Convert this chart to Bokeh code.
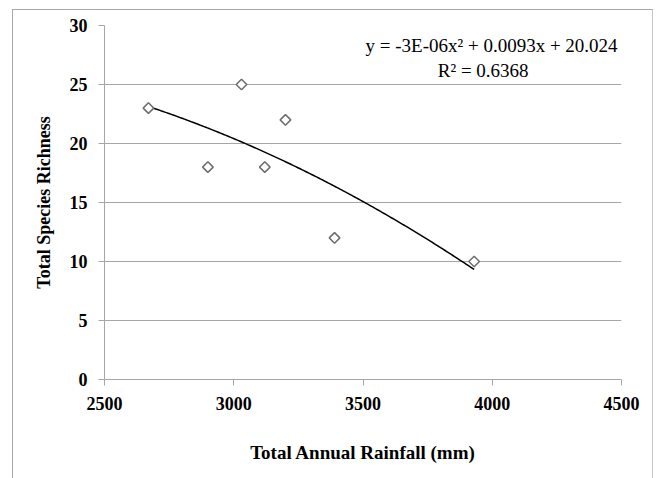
import numpy as np
from bokeh.plotting import figure
from bokeh.models import Label, FixedTicker
from bokeh.embed import file_html
from bokeh.resources import INLINE

# Data
rainfall = [2670, 2900, 3030, 3120, 3200, 3390, 3930]
richness = [23, 18, 25, 18, 22, 12, 10]
x_ticks = [2500, 3000, 3500, 4000, 4500]
y_ticks = [0, 5, 10, 15, 20, 25, 30]
equation_text = "y = -3E-06x\u00b2 + 0.0093x + 20.024"
r2_text = "R\u00b2 = 0.6368"
x_title = "Total Annual Rainfall (mm)"
y_title = "Total Species Richness"

FONT = "Liberation Serif"
GRID = "#a6a6a6"

p = figure(frame_width=517, frame_height=354,
           min_border_left=91, min_border_right=31,
           min_border_top=15, min_border_bottom=99,
           x_range=(2500, 4500), y_range=(0, 30),
           output_backend="svg", toolbar_location=None,
           background_fill_color="white", border_fill_color="white")
p.outline_line_color = None
p.styles = {"border-left": "1px solid #a8a8a8", "border-top": "1px solid #a8a8a8",
            "border-right": "1px solid #c8c8c8",
            "margin-left": "12px", "margin-top": "9px"}

# grid
p.xgrid.grid_line_color = None
p.ygrid.grid_line_color = GRID
p.ygrid.ticker = FixedTicker(ticks=y_ticks)

for ax in (p.xaxis[0], p.yaxis[0]):
    ax.axis_line_color = GRID
    ax.major_tick_line_color = GRID
    ax.major_tick_out = 6
    ax.major_tick_in = 0
    ax.minor_tick_line_color = None
    ax.major_label_text_font = FONT
    ax.major_label_text_font_style = "bold"
    ax.major_label_text_font_size = "18px"
    ax.major_label_text_color = "black"
    ax.axis_label_text_font = FONT
    ax.axis_label_text_font_style = "bold"
    ax.axis_label_text_color = "black"

p.xaxis[0].ticker = FixedTicker(ticks=x_ticks)
p.yaxis[0].ticker = FixedTicker(ticks=y_ticks)
p.xaxis[0].axis_label = x_title
p.yaxis[0].axis_label = y_title
p.xaxis[0].axis_label_text_font_size = "19px"
p.yaxis[0].axis_label_text_font_size = "18px"
p.xaxis[0].major_label_standoff = 11
p.yaxis[0].major_label_standoff = 11
p.xaxis[0].axis_label_standoff = 29
p.yaxis[0].axis_label_standoff = 13

# trendline: 2nd order polynomial fit of the data
coef = np.polyfit(rainfall, richness, 2)
xs = np.linspace(min(rainfall), max(rainfall), 200)
ys = np.polyval(coef, xs)
p.line(xs, ys, line_color="black", line_width=1.5)

# points
p.scatter(rainfall, richness, marker="square", angle=np.pi / 4, size=7.5,
          fill_color="white", line_color="#6e6e6e", line_width=1.5)

p.add_layout(Label(x=4485, y=28.3, text=equation_text, text_align="right",
                   text_baseline="middle", text_font=FONT,
                   text_font_size="19px", text_color="black"))
p.add_layout(Label(x=3965, y=26.2, text=r2_text, text_align="center",
                   text_baseline="middle", text_font=FONT,
                   text_font_size="19px", text_color="black"))

open("out.html", "w").write(file_html(p, INLINE))
